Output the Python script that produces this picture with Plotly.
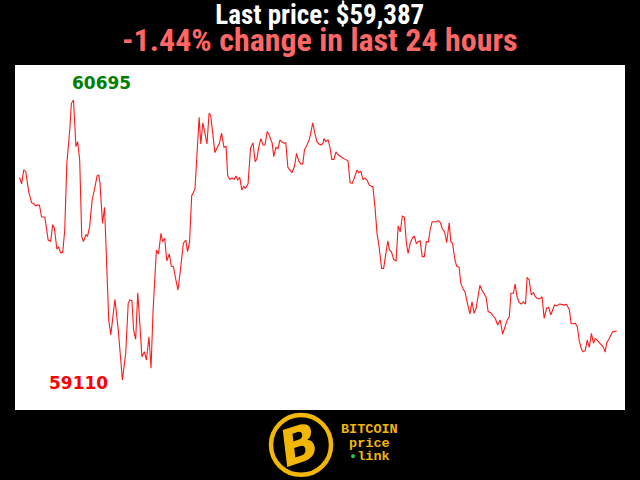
import plotly.graph_objects as go

# minutes since start of the 24h window
minutes = [0, 5, 10, 15, 22, 29, 35, 39, 43, 48, 53, 61, 69, 75, 80, 84, 90, 94, 99, 104,
           109, 114, 121, 125, 130, 136, 140, 145, 150, 154, 160, 164, 169, 175, 182, 187, 191,
           194, 200, 205, 215, 220, 230, 238, 248, 256, 262, 266, 271, 275, 280, 285, 290, 295,
           301, 306, 312, 317, 322, 330, 335, 341, 345, 350, 355, 361, 366, 371, 377, 382, 387,
           395, 401, 405, 410, 415, 423, 428, 433, 437, 442, 452, 457, 461, 466, 471, 476, 482,
           487, 493, 498, 502, 507, 513, 518, 522, 526, 531, 536, 540, 545, 551, 557, 563, 568,
           572, 577, 582, 587, 592, 597, 601, 606, 609, 613, 618, 623, 628, 633, 638, 642, 647,
           652, 657, 663, 668, 673, 678, 683, 687, 692, 699, 703, 707, 712, 717, 722, 727, 732,
           734, 739, 744, 748, 753, 758, 763, 768, 773, 777, 782, 787, 792, 797, 802, 806, 814,
           818, 823, 828, 833, 838, 843, 847, 852, 857, 862, 867, 873, 878, 883, 888, 892, 897,
           902, 908, 913, 918, 923, 928, 933, 937, 942, 947, 952, 957, 961, 966, 971, 976, 981,
           986, 990, 995, 1000, 1005, 1010, 1015, 1019, 1025, 1030, 1036, 1040, 1044, 1050, 1054,
           1060, 1064, 1070, 1074, 1080, 1086, 1091, 1096, 1101, 1105, 1110, 1115, 1120, 1125,
           1130, 1136, 1142, 1147, 1153, 1159, 1165, 1171, 1176, 1181, 1185, 1191, 1195, 1200,
           1205, 1210, 1215, 1220, 1224, 1229, 1234, 1239, 1244, 1249, 1255, 1260, 1265, 1271,
           1276, 1281, 1286, 1290, 1295, 1302, 1307, 1313, 1319, 1326, 1330, 1335, 1340, 1345,
           1350, 1355, 1359, 1364, 1369, 1374, 1379, 1384, 1388, 1393, 1398, 1403, 1408, 1412,
           1416, 1421, 1425, 1430, 1435, 1440]

prices = [60257, 60220, 60299, 60289, 60176, 60114, 60106, 60095, 60101, 60099, 60034, 60031,
          59902, 59895, 59989, 59970, 59850, 59864, 59831, 59831, 59959, 60337, 60525, 60676,
          60695, 60431, 60459, 60355, 59921, 59893, 59931, 59925, 59978, 60129, 60204, 60265,
          60270, 60223, 59997, 60088, 59450, 59365, 59567, 59393, 59110, 59261, 59544, 59563,
          59559, 59393, 59340, 59604, 59431, 59242, 59270, 59223, 59355, 59176, 59506, 59846,
          59823, 59940, 59893, 59912, 59785, 59823, 59755, 59751, 59676, 59619, 59714, 59884,
          59902, 59836, 59893, 60152, 60190, 60412, 60597, 60446, 60566, 60446, 60620, 60608,
          60507, 60397, 60422, 60450, 60507, 60427, 60431, 60265, 60246, 60252, 60246, 60265,
          60242, 60257, 60186, 60204, 60195, 60220, 60422, 60453, 60346, 60359, 60431, 60476,
          60440, 60440, 60516, 60503, 60469, 60453, 60374, 60427, 60419, 60469, 60457, 60450,
          60453, 60314, 60299, 60283, 60321, 60393, 60351, 60333, 60333, 60412, 60435, 60473,
          60516, 60566, 60507, 60459, 60446, 60440, 60450, 60476, 60459, 60469, 60431, 60359,
          60359, 60401, 60385, 60374, 60371, 60363, 60355, 60351, 60227, 60223, 60246, 60299,
          60283, 60291, 60246, 60252, 60242, 60214, 60208, 60204, 60091, 59940, 59864, 59742,
          59742, 59827, 59898, 59846, 59834, 59793, 59785, 59982, 59949, 60038, 60031, 59880,
          59827, 59884, 59912, 59925, 59880, 59893, 59898, 59808, 59808, 59893, 59893, 59959,
          60006, 60006, 60006, 60012, 60000, 59969, 59948, 59887, 60000, 59893, 59884, 59789,
          59755, 59748, 59657, 59623, 59610, 59544, 59484, 59553, 59487, 59516, 59581, 59646,
          59619, 59601, 59578, 59497, 59491, 59472, 59459, 59421, 59450, 59370, 59412, 59450,
          59468, 59601, 59601, 59653, 59578, 59548, 59540, 59553, 59540, 59691, 59676, 59591,
          59604, 59581, 59570, 59570, 59581, 59459, 59516, 59521, 59478, 59510, 59534, 59529,
          59540, 59538, 59534, 59538, 59506, 59431, 59427, 59431, 59412, 59327, 59284, 59270,
          59276, 59336, 59295, 59374, 59318, 59344, 59336, 59321, 59308, 59295, 59268, 59321,
          59340, 59363, 59383, 59385, 59387]

title_line1 = "Last price: $59,387"
title_line2 = "-1.44% change in last 24 hours"
logo_lines = ["BITCOIN", "price", "link"]

hi = max(prices)
lo = min(prices)
hi_x = minutes[prices.index(hi)]
lo_x = minutes[prices.index(lo)]

GOLD = "#f2b705"
TFONT = "Liberation Sans Narrow, Roboto Condensed, Roboto, sans-serif"

title_text = (f"<span style='font-size:27px;color:#ffffff'><b>{title_line1}</b></span><br>"
              f"<span style='font-size:32px;color:#ff6666'><b>{title_line2}</b></span>")
logo_text = (f"<span style='font-size:13.5px'><b>{logo_lines[0]}</b></span><br>"
             f"<span style='font-size:13.5px'><b>{logo_lines[1]}</b></span><br>"
             f"<span style='font-size:13.5px'><b><span style='color:#22c55e'>•</span>"
             f"{logo_lines[2]}</b></span>")

fig = go.Figure()
fig.add_trace(go.Scatter(x=minutes, y=prices, mode="lines",
                         line=dict(color="#ff1a1a", width=1.1), hoverinfo="skip"))

annotations = [
    dict(text=title_text, x=0.5, y=1.103, xref="paper", yref="paper",
         showarrow=False, font=dict(family=TFONT, size=21, color="white"),
         xanchor="center", yanchor="middle", align="center"),
    dict(text=f"<b>{hi}</b>", x=hi_x, y=hi, xref="x", yref="y", showarrow=False,
         font=dict(family="DejaVu Sans", size=17, color="#008000"),
         xshift=28, yshift=17),
    dict(text=f"<b>{lo}</b>", x=lo_x, y=lo, xref="x", yref="y", showarrow=False,
         font=dict(family="DejaVu Sans", size=17, color="#ff0000"),
         xshift=-44, yshift=-3),
    # logo
    dict(text="<b><i>B</i></b>", x=0.466, y=-0.102, xref="paper", yref="paper",
         showarrow=False, textangle=-18,
         font=dict(family="DejaVu Sans", size=50, color=GOLD),
         xanchor="center", yanchor="middle"),
    dict(text=logo_text, x=0.581, y=-0.097, xref="paper", yref="paper",
         showarrow=False, font=dict(family="Liberation Mono", size=10.4, color=GOLD),
         xanchor="center", yanchor="middle", align="center"),
]

shapes = [
    dict(type="circle", xref="paper", yref="paper", x0=0.4197, x1=0.5181,
         y0=-0.188, y1=-0.0145, line=dict(color=GOLD, width=4.5), fillcolor="black"),
]

fig.update_layout(
    width=640, height=480,
    paper_bgcolor="black", plot_bgcolor="white",
    margin=dict(l=15, r=15, t=65, b=70),
    showlegend=False,
    xaxis=dict(visible=False, range=[-11, 1460], fixedrange=True),
    yaxis=dict(visible=False, range=[58940, 60893], fixedrange=True),
    annotations=annotations, shapes=shapes,
)

fig.write_html("out.html")
